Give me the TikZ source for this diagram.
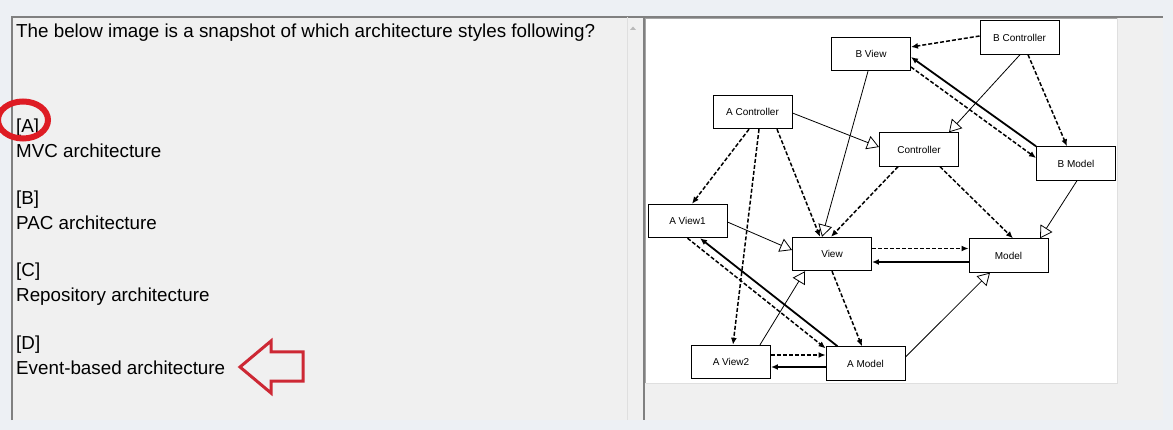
\documentclass[tikz,border=0pt]{standalone}
\usepackage{fontspec}
\setmainfont{Liberation Sans}
\usetikzlibrary{arrows.meta,calc}
\definecolor{outerbg}{RGB}{237,240,244}
\definecolor{panelbg}{RGB}{240,240,240}
\definecolor{framegray}{RGB}{128,128,128}
\definecolor{redmark}{RGB}{222,28,36}
\definecolor{redarrow}{RGB}{205,40,52}
\begin{document}
\begin{tikzpicture}[x=1pt,y=-1pt,
  box/.style={draw=black, line width=0.9pt, fill=white, minimum width=79pt, minimum height=33.5pt, inner sep=0pt, font=\fontsize{10}{12}\selectfont},
  dsh/.style={line width=1.5pt, dash pattern=on 4pt off 2pt, -{Latex[length=7pt,width=6pt]}},
  sld/.style={line width=1.8pt, -{Latex[length=7pt,width=6pt]}},
  gen/.style={line width=0.8pt, -{Triangle[open,length=12pt,width=14pt,fill=white]}},
  qtext/.style={anchor=base west, inner sep=0pt, font=\fontsize{18.8}{22}\selectfont, text=black}
]
\useasboundingbox (0,0) rectangle (1173,430);
% backgrounds
\fill[outerbg] (0,0) rectangle (1173,430);
\fill[panelbg] (12,17) rectangle (1163,420);
\draw[framegray, line width=1.2pt] (12,420) -- (12,17) -- (1163,17);
\draw[gray!25, line width=0.8pt] (627,17) -- (627,420);
\fill[gray!55] (630,30) -- (633,26.5) -- (636,30) -- cycle;
\draw[framegray, line width=1.2pt] (644,17) -- (644,420);
\fill[white] (646,19) rectangle (1117,383);
\draw[gray!70, line width=1.5pt] (645.5,383) -- (645.5,18.5) -- (1117,18.5);
\draw[gray!25, line width=1pt] (1117,18.5) -- (1117,383.5) -- (645.5,383.5);

% question text
\node[qtext] (q) at (16,38) {The below image is a snapshot of which architecture styles following?};
\node[qtext] (la) at (16,133) {[A]};
\node[qtext] (ta) at (16,158) {MVC architecture};
\node[qtext] (lb) at (16,205) {[B]};
\node[qtext] (tb) at (16,230) {PAC architecture};
\node[qtext] (lc) at (16,277) {[C]};
\node[qtext] (tc) at (16,302) {Repository architecture};
\node[qtext] (ld) at (16,349) {[D]};
\node[qtext] (td) at (16,374) {Event-based architecture};

% red marks
\draw[redmark, line width=6pt] (23,120) ellipse [x radius=25, y radius=18.5];
\draw[redarrow, line width=3pt, line join=miter] (240,367) -- (271,341) -- (271,352) -- (303,352) -- (303,381) -- (271,381) -- (271,393) -- cycle;

% diagram boxes
\node[box] (BV) at (871,54) {B View};
\node[box] (BC) at (1019.5,37.5) {B Controller};
\node[box] (AC) at (752.5,112) {A Controller};
\node[box] (C) at (919,149.5) {Controller};
\node[box] (BM) at (1076,163.5) {B Model};
\node[box] (AV1) at (687.5,221) {A View1};
\node[box] (V) at (832,254) {View};
\node[box] (M) at (1008.5,255.5) {Model};
\node[box] (AV2) at (731,362) {A View2};
\node[box] (AM) at (865.5,363.5) {A Model};

% connectors
\draw[dsh] ([yshift=1.5]BC.west) -- ([yshift=7]BV.east);
\draw[sld] (BM.north west) -- ([yshift=-3]BV.east);
\draw[dsh] ([yshift=-13]BV.east) -- ([yshift=5.5]BM.west);
\draw[dsh] ([xshift=8.5]BC.south) -- ([xshift=-9]BM.north);
\draw[gen] ([xshift=0.5]BC.south) -- ([xshift=30]C.north);
\draw[gen] ([yshift=-1]AC.east) -- ([yshift=2.5]C.west);
\draw[dsh] ([xshift=24.5]AC.south) -- ([xshift=-12]V.north);
\draw[gen] ([xshift=-3]BV.south) -- ([xshift=-10]V.north);
\draw[dsh] ([xshift=-21]C.south) -- ([xshift=-1]V.north);
\draw[dsh] ([xshift=21]C.south) -- ([xshift=4.5]M.north);
\draw[gen] ([xshift=1]BM.south) -- ([xshift=31.5]M.north);
\draw[dsh] ([xshift=-3.5]AC.south) -- ([xshift=4.5]AV1.north);
\draw[dsh] ([xshift=6.5]AC.south) -- ([xshift=2]AV2.north);
\draw[gen] ([yshift=-1]AV1.east) -- ([yshift=4]V.west);
\draw[sld] ([xshift=12]AM.north west) -- ([xshift=12.5]AV1.south);
\draw[dsh] (AV1.south) -- ([yshift=-2]AM.north west);
\draw[gen] ([xshift=29]AV2.north) -- ([xshift=-27]V.south);
\draw[dsh] (V.south) -- ([xshift=-3.5]AM.north);
\draw[dsh] ([yshift=7]AV2.east) -- ([yshift=8.5]AM.west);
\draw[sld] ([yshift=-3.5]AM.west) -- ([yshift=-5]AV2.east);
\draw[dsh] ([yshift=5.5]V.east) -- ([yshift=7]M.west);
\draw[sld] ([yshift=-6.5]M.west) -- ([yshift=-8]V.east);
\draw[gen] ([yshift=6.5]AM.east) -- ([xshift=-18.5]M.south);
\end{tikzpicture}
\end{document}
